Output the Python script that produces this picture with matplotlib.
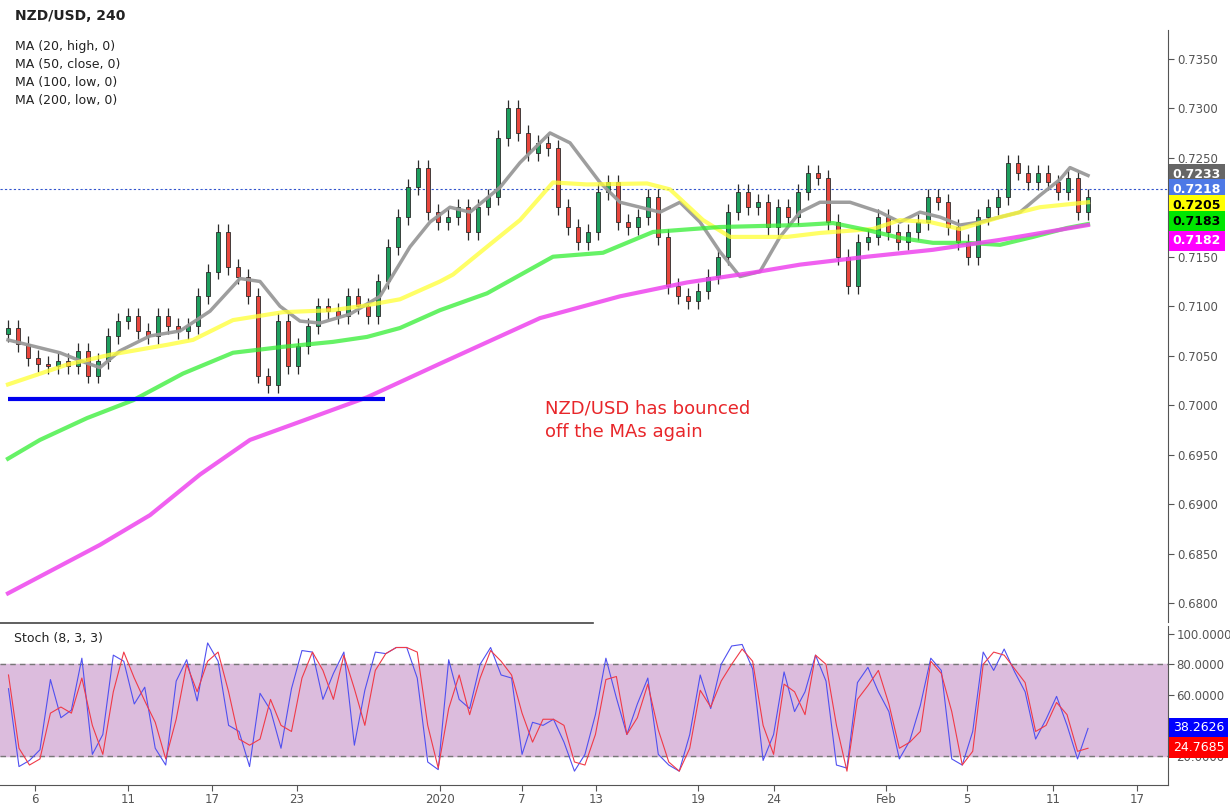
import matplotlib
matplotlib.use("Agg")
import matplotlib.pyplot as plt
import numpy as np

# closes (one bar per ~two 4h candles)
closes = [0.7078, 0.7062, 0.7048, 0.7042, 0.7040, 0.7045, 0.7040, 0.7055, 0.7030, 0.7045,
          0.7070, 0.7085, 0.7090, 0.7075, 0.7070, 0.7090, 0.7080, 0.7075, 0.7080, 0.7110,
          0.7135, 0.7175, 0.7140, 0.7130, 0.7110, 0.7030, 0.7020, 0.7085, 0.7040, 0.7060,
          0.7080, 0.7100, 0.7095, 0.7090, 0.7110, 0.7100, 0.7090, 0.7125, 0.7160, 0.7190,
          0.7220, 0.7240, 0.7195, 0.7185, 0.7190, 0.7200, 0.7175, 0.7200, 0.7210, 0.7270,
          0.7300, 0.7275, 0.7255, 0.7265, 0.7260, 0.7200, 0.7180, 0.7165, 0.7175, 0.7215,
          0.7225, 0.7185, 0.7180, 0.7190, 0.7210, 0.7170, 0.7120, 0.7110, 0.7105, 0.7115,
          0.7130, 0.7150, 0.7195, 0.7215, 0.7200, 0.7205, 0.7180, 0.7200, 0.7190, 0.7215,
          0.7235, 0.7230, 0.7185, 0.7150, 0.7120, 0.7165, 0.7170, 0.7190, 0.7175, 0.7165,
          0.7175, 0.7185, 0.7210, 0.7205, 0.7180, 0.7165, 0.7150, 0.7190, 0.7200, 0.7210,
          0.7245, 0.7235, 0.7225, 0.7235, 0.7225, 0.7215, 0.7230, 0.7195, 0.7210]
first_open = 0.7072

# moving averages: (bar index, value) pairs
ma20_idx = [0, 5.2, 7.2, 9.2, 11.2, 14.2, 17.2, 20.2, 23.2, 25.2, 27.2, 29.2, 31.2, 34.2, 37.2,
            40.2, 42.2, 44.2, 46.2, 49.2, 51.2, 54.2, 56.2, 59.2, 61.2, 63.2, 65.2, 67.2, 69.2,
            71.2, 73.2, 75.2, 77.2, 79.2, 81.2, 84.2, 87.2, 89.2, 91.2, 93.2, 95.2, 97.2, 99.2,
            101.2, 103.2, 105.2, 106.2, 108]
ma20 = [0.7066, 0.7053, 0.7045, 0.7038, 0.7055, 0.7070, 0.7075, 0.7095, 0.7128, 0.7125,
        0.7100, 0.7085, 0.7083, 0.7092, 0.7110, 0.7160, 0.7185, 0.7200, 0.7195, 0.7220,
        0.7245, 0.7275, 0.7265, 0.7225, 0.7205, 0.7200, 0.7195, 0.7205, 0.7185, 0.7155,
        0.7130, 0.7135, 0.7170, 0.7195, 0.7205, 0.7205, 0.7195, 0.7185, 0.7195, 0.7190,
        0.7182, 0.7185, 0.7190, 0.7195, 0.7212, 0.7228, 0.7240, 0.7232]
ma50_idx = [0, 5.9, 10.2, 15.9, 18.5, 22.5, 27.5, 32.5, 35.9, 39.2, 43.2, 44.5, 47.9, 51.2,
            54.5, 57.9, 63.9, 66.2, 69.5, 72.2, 77.9, 81.2, 86.5, 89.2, 92.2, 95.2, 99.2, 103.2, 108]
ma50 = [0.7021, 0.7041, 0.7051, 0.7061, 0.7066, 0.7086, 0.7094, 0.7096, 0.7101, 0.7107,
        0.7125, 0.7132, 0.7160, 0.7187, 0.7225, 0.7223, 0.7224, 0.7218, 0.7187, 0.7170,
        0.7170, 0.7174, 0.7178, 0.7187, 0.7185, 0.7178, 0.7190, 0.7200, 0.7205]
ma100_idx = [0, 3.2, 7.9, 12.5, 17.5, 22.5, 27.5, 32.5, 35.9, 39.2, 43.2, 47.9, 54.5, 59.5,
             64.5, 71.2, 79.2, 82.5, 85.9, 89.2, 92.5, 95.9, 99.2, 102.5, 105.9, 108]
ma100 = [0.6946, 0.6965, 0.6987, 0.7005, 0.7032, 0.7053, 0.7059, 0.7064, 0.7069, 0.7078,
         0.7096, 0.7113, 0.7150, 0.7154, 0.7175, 0.7180, 0.7182, 0.7184, 0.7177, 0.7169,
         0.7164, 0.7164, 0.7162, 0.7170, 0.7179, 0.7183]
ma200_idx = [0, 9.2, 14.2, 19.2, 24.2, 30.2, 35.9, 43.2, 53.2, 61.2, 67.9, 74.5, 79.2, 85.9,
             92.5, 99.2, 108]
ma200 = [0.6810, 0.6859, 0.6889, 0.6930, 0.6965, 0.6987, 0.7008, 0.7042, 0.7088, 0.7110,
         0.7124, 0.7134, 0.7142, 0.7150, 0.7157, 0.7167, 0.7182]

# stochastic %K (blue) and %D (red)
stoch_k = [64, 13, 17, 24, 70, 45, 50, 84, 21, 34, 86, 82, 54, 65, 25, 14, 69, 83, 56, 94,
           82, 40, 36, 13, 61, 50, 25, 64, 89, 88, 57, 74, 88, 27, 63, 88, 87, 91, 91, 71,
           16, 11, 83, 57, 51, 80, 91, 73, 71, 21, 42, 40,
           44, 29, 10, 21, 47, 84, 58, 34, 54, 71, 21, 14, 10, 34, 73, 51, 80, 92, 93, 77,
           17, 34, 75, 49, 62, 86, 69, 14, 12, 68, 78, 62, 49, 18, 30, 53, 84, 76, 18, 14,
           36, 88, 76, 90, 75, 62, 31, 44, 59, 40, 18, 38]
stoch_d = [73, 25, 14, 18, 48, 52, 48, 71, 40, 21, 62, 88, 71, 56, 42, 18, 44, 80, 62, 82,
           88, 62, 31, 27, 31, 57, 40, 36, 71, 88, 76, 57, 86, 64, 40, 76, 87, 91, 91, 88,
           40, 12, 51, 73, 47, 71, 89, 82, 73, 48, 29, 44,
           44, 40, 16, 14, 34, 70, 72, 34, 45, 67, 37, 16, 10, 25, 63, 52, 69, 80, 90, 82,
           40, 21, 67, 62, 47, 86, 80, 40, 10, 57, 66, 76, 54, 25, 29, 36, 82, 74, 49, 14,
           23, 80, 88, 86, 77, 68, 36, 40, 55, 47, 23, 25]

tick_pos = [2.7, 12, 20.4, 28.9, 43.2, 51.4, 58.8, 69, 76.6, 87.8, 95.9, 104.5, 112.9]
tick_labels = ["6", "11", "17", "23", "2020", "7", "13", "19", "24", "Feb", "5", "11", "17"]
price_ticks = np.round(np.arange(0.68, 0.7351, 0.005), 4)

support_level = 0.7006
last_price = 0.7218

UP = "#1e9e5e"
DOWN = "#e8453c"
EDGE = "#2b2b2b"

fig = plt.figure(figsize=(12.3, 8.1), dpi=100)
ax = fig.add_axes([0.0, 0.232, 0.9496, 0.731])
ax2 = fig.add_axes([0.0, 0.031, 0.9496, 0.196], sharex=ax)

# candles
opens = [first_open] + closes[:-1]
wick = 0.0008
for i, (o, c) in enumerate(zip(opens, closes)):
    col = UP if c >= o else DOWN
    ax.vlines(i, min(o, c) - wick, max(o, c) + wick, color=EDGE, lw=0.9, zorder=2)
    ax.bar(i, max(abs(c - o), 0.00008), bottom=min(o, c), width=0.45,
           color=col, edgecolor=EDGE, lw=0.6, zorder=3)

ax.plot(ma20_idx, ma20, color="#999999", lw=2.5, alpha=0.95, zorder=4)
ax.plot(ma50_idx, ma50, color="#ffff33", lw=3, alpha=0.75, zorder=4)
ax.plot(ma100_idx, ma100, color="#33ee33", lw=3, alpha=0.75, zorder=4)
ax.plot(ma200_idx, ma200, color="#ee44ee", lw=3, alpha=0.85, zorder=4)

ax.hlines(support_level, 0, 37.7, color="#0000ee", lw=3, zorder=5)
ax.axhline(last_price, color="#3355cc", lw=0.8, ls=(0, (2, 2)), zorder=1)

ax.text(53.7, 0.6985, "NZD/USD has bounced\noff the MAs again", color="#e8262a",
        fontsize=13, va="center", ha="left", linespacing=1.4)

ax.set_xlim(-0.8, 116)
ax.set_ylim(0.6781, 0.7379)
ax.yaxis.tick_right()
ax.set_yticks(price_ticks)
ax.set_yticklabels([f"{v:.4f}" for v in price_ticks], color="#555555", fontsize=8.5)
ax.tick_params(axis="x", bottom=False, labelbottom=False)
ax.tick_params(axis="y", color="#555555", length=4, pad=3)
for s in ["top", "left", "bottom"]:
    ax.spines[s].set_visible(False)
ax.spines["right"].set_color("#555555")

fig.text(0.012, 0.980, "NZD/USD, 240", fontsize=10, fontweight="bold", color="#222222", va="center")
for k, name in enumerate(["MA (20, high, 0)", "MA (50, close, 0)", "MA (100, low, 0)", "MA (200, low, 0)"]):
    fig.text(0.012, 0.942 - k * 0.0222, name, fontsize=9, color="#222222", va="center")

# value boxes on the right
boxes = [("0.7233", 0.7233, "#666666", "white"), ("0.7218", 0.7218, "#4d79e6", "white"),
         ("0.7205", 0.7202, "#ffff00", "black"), ("0.7183", 0.7186, "#00e600", "black"),
         ("0.7182", 0.7166, "#ff00ff", "white")]
for txt, y, bg, fg in boxes:
    ax.text(1.004, y, txt, transform=ax.get_yaxis_transform(), fontsize=9, fontweight="bold",
            color=fg, va="center", ha="left", clip_on=False,
            bbox=dict(boxstyle="square,pad=0.3", fc=bg, ec="none"))

# stochastic panel
ax2.axhspan(20, 80, color="#dcbcdd", zorder=0)
ax2.axhline(80, color="#777777", lw=1, ls=(0, (4, 3)))
ax2.axhline(20, color="#777777", lw=1, ls=(0, (4, 3)))
xs_k = np.linspace(0.05, len(closes) - 1, len(stoch_k))
xs_d = np.linspace(0.05, len(closes) - 1, len(stoch_d))
ax2.plot(xs_k, stoch_k, color="#5050f0", lw=0.8, zorder=3)
ax2.plot(xs_d, stoch_d, color="#f03a48", lw=0.8, zorder=3)
ax2.set_ylim(1, 105)
ax2.yaxis.tick_right()
ax2.set_yticks([20, 40, 60, 80, 100])
ax2.set_yticklabels([f"{v:.4f}" for v in [20, 40, 60, 80, 100]], color="#555555", fontsize=8.5)
ax2.set_xticks(tick_pos)
ax2.set_xticklabels(tick_labels, color="#555555", fontsize=8.5)
ax2.tick_params(colors="#555555", length=4, pad=2)
for s in ["top", "left"]:
    ax2.spines[s].set_visible(False)
ax2.spines["right"].set_color("#555555")
ax2.spines["bottom"].set_color("#555555")
ax2.text(0.012, 0.92, "Stoch (8, 3, 3)", transform=ax2.transAxes, fontsize=9, color="#222222", va="center")
ax2.plot([0, 0.508], [1.02, 1.02], transform=ax2.transAxes, color="#444444", lw=1.2, clip_on=False)
for txt, y, bg in [("38.2626", 38.3, "#0000ff"), ("24.7685", 25.5, "#ff0000")]:
    ax2.text(1.004, y, txt, transform=ax2.get_yaxis_transform(), fontsize=9, color="white",
             va="center", ha="left", clip_on=False, zorder=10,
             bbox=dict(boxstyle="square,pad=0.3", fc=bg, ec="none"))

fig.savefig("out.png", dpi=100, facecolor="white")
